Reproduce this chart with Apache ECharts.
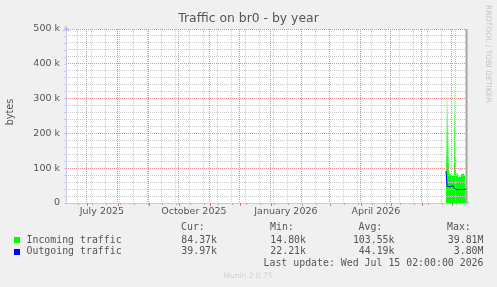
<!DOCTYPE html>
<html><head><meta charset="utf-8">
<script src="https://cdn.jsdelivr.net/npm/echarts@6/dist/echarts.min.js"></script>
<style>html,body{margin:0;padding:0;background:#f0f0f0}#c{width:497px;height:287px}</style>
</head><body><div id="c"></div>
<script>
const chartTitle = 'Traffic on br0 - by year';
const yLabel = 'bytes';
const rangeStart = '2025-06-10T02:00:00Z';
const rangeEnd = '2026-07-15T02:00:00Z';
const dates = ['2026-06-25','2026-06-26','2026-06-27','2026-06-28','2026-06-29','2026-06-30','2026-07-01',
  '2026-07-02','2026-07-03','2026-07-04','2026-07-05','2026-07-06','2026-07-07','2026-07-08','2026-07-09',
  '2026-07-10','2026-07-11','2026-07-12','2026-07-13','2026-07-14','2026-07-15'];
const incoming = [70000, 74000, 392000, 388000, 78000, 88000, 77000, 76000, 79000, 405000,
  400000, 76000, 90000, 75000, 80000, 76000, 82000, 77000, 85000, 78000, 84370];
const outgoing = [92000, 48000, 47000, 47000, 47000, 46000, 47000, 50000, 44000, 41000,
  38000, 37000, 38000, 39000, 39000, 38000, 39000, 39500, 39000, 39000, 39970];
const monthStarts = ['2025-07-01','2025-08-01','2025-09-01','2025-10-01','2025-11-01','2025-12-01',
  '2026-01-01','2026-02-01','2026-03-01','2026-04-01','2026-05-01','2026-06-01','2026-07-01'];
const monthLabelDates = ['2025-07-16','2025-10-16','2026-01-16','2026-04-16'];
const monthLabels = ['July 2025','October 2025','January 2026','April 2026'];
const firstMinorDate = '2025-06-22';
const yMax = 500000, yMajor = 100000, yMinor = 20000;
const legendNames = ['Incoming traffic','Outgoing traffic'];
const legendColors = ['#00ff00','#0000ff'];
const curVals = ['84.37k','39.97k'];
const minVals = ['14.80k','22.21k'];
const avgVals = ['103.55k','44.19k'];
const maxVals = ['39.81M','3.80M'];
const lastUpdate = 'Last update: Wed Jul 15 02:00:00 2026';
const footer = 'Munin 2.0.75';
const watermark = 'RRDTOOL / TOBI OETIKER';

const DAY = 86400000;
const t0 = Date.parse(rangeStart), t1 = Date.parse(rangeEnd);
const ts = d => Date.parse(d + 'T02:00:00Z');
const tm = d => Date.parse(d + 'T00:00:00Z');
const inData = dates.map((d, i) => [ts(d), incoming[i]]);
const outData = dates.map((d, i) => [ts(d), outgoing[i]]);
const minorX = [];
for (let t = tm(firstMinorDate); t < t1; t += 14 * DAY) minorX.push(t);
const majorX = monthStarts.map(tm);
const labelX = monthLabelDates.map(tm);
const minorY = [], majorY = [];
for (let v = yMinor; v <= yMax; v += yMinor) (v % yMajor === 0 ? majorY : minorY).push(v);

const RED = '#e88c8c', GRAY = '#cbcbcb';
const AX = '#c4c8f4', TXT = '#555';
const F = 'DejaVu Sans', M = 'DejaVu Sans Mono';
const mono = (text, x, y, align) => ({ type: 'text', x, y, style: { text, font: '9.9px "' + M + '"', fill: TXT, align: align || 'left', verticalAlign: 'middle' } });

const graphic = [
  { type: 'text', x: 248.5, y: 19, style: { text: chartTitle, font: '12.4px "' + F + '"', fill: TXT, align: 'center', verticalAlign: 'middle' } },
  { type: 'text', x: 10, y: 112, rotation: Math.PI / 2, style: { text: yLabel, font: '9.6px "' + F + '"', fill: TXT, align: 'center', verticalAlign: 'middle' } },
  { type: 'text', x: 488, y: 54, rotation: -Math.PI / 2, style: { text: watermark, font: '7.6px "' + F + '"', fill: '#c4c4c4', align: 'center', verticalAlign: 'middle' } },
  { type: 'text', x: 248, y: 276, style: { text: footer, font: '7.5px "' + F + '"', fill: '#cfcfcf', align: 'center', verticalAlign: 'middle' } },
  mono('Cur:', 181, 227.5), mono('Min:', 270, 227.5), mono('Avg:', 358.5, 227.5), mono('Max:', 447, 227.5),
  mono(lastUpdate, 483.5, 263.5, 'right')
];
legendNames.forEach((n, i) => {
  const y = 240 + i * 11.7;
  graphic.push({ type: 'rect', shape: { x: 14, y: Math.round(y - 3), width: 6, height: 6 }, style: { fill: legendColors[i] } });
  graphic.push(mono(n, 26.5, y));
  graphic.push(mono(curVals[i], 217, y, 'right'));
  graphic.push(mono(minVals[i], 306, y, 'right'));
  graphic.push(mono(avgVals[i], 394.5, y, 'right'));
  graphic.push(mono(maxVals[i], 483.5, y, 'right'));
});

const vRender = (stroke, width, dash) => (params, api) => {
  const cs = params.coordSys;
  let x = api.coord([api.value(0), 0])[0];
  x = Math.round(x - 0.5) + 0.5;
  return { type: 'line', shape: { x1: x, y1: cs.y, x2: x, y2: cs.y + cs.height }, style: { stroke, lineWidth: width, lineDash: dash } };
};
const hRender = (stroke) => (params, api) => {
  const cs = params.coordSys;
  let y = api.coord([t0, api.value(1)])[1];
  y = Math.round(y - 0.5) + 0.5;
  return { type: 'line', shape: { x1: cs.x, y1: y, x2: cs.x + cs.width, y2: y }, style: { stroke, lineWidth: 1, lineDash: [1, 1] } };
};
const gridSeries = (data, render, z) => ({ type: 'custom', data, renderItem: render, silent: true, z, clip: false, animation: false });

const chart = echarts.init(document.getElementById('c'), null, { renderer: 'canvas' });
chart.setOption({
  animation: false,
  backgroundColor: '#f0f0f0',
  graphic: graphic,
  grid: { left: 66, top: 29, right: 31, bottom: 84, show: true, backgroundColor: '#ffffff', borderWidth: 0 },
  xAxis: [{
    type: 'value', min: t0, max: t1,
    axisLine: { show: true, onZero: false, lineStyle: { color: AX, width: 1 }, symbol: ['none', 'arrow'], symbolSize: [6, 7], symbolOffset: [0, 4] },
    axisTick: { show: true, customValues: majorX, length: 3, lineStyle: { color: '#e07070' } },
    axisLabel: { show: true, customValues: labelX, margin: 4, color: TXT, fontFamily: F, fontSize: 9.5,
      formatter: v => { const i = labelX.indexOf(v); return i >= 0 ? monthLabels[i] : ''; } },
    splitLine: { show: false }
  }, {
    type: 'value', min: t0, max: t1, position: 'bottom',
    axisLine: { show: false },
    axisTick: { show: true, customValues: minorX, length: 2, lineStyle: { color: '#b0b0b0' } },
    axisLabel: { show: false }, splitLine: { show: false }
  }],
  yAxis: {
    type: 'value', min: 0, max: yMax, interval: yMajor,
    axisLine: { show: true, lineStyle: { color: AX, width: 1 }, symbol: ['none', 'arrow'], symbolSize: [6, 7], symbolOffset: [0, 4] },
    axisTick: { show: true, length: 2, lineStyle: { color: AX } },
    minorTick: { show: true, splitNumber: 5, length: 2, lineStyle: { color: '#c8c8c8' } },
    axisLabel: { color: TXT, fontFamily: F, fontSize: 9.5, margin: 6, formatter: v => v === 0 ? '0' : (v / 1000) + ' k' },
    splitLine: { show: false }
  },
  series: [{
    name: legendNames[0], type: 'line', data: inData, step: 'start', symbol: 'none', z: 2,
    lineStyle: { width: 0, opacity: 0 },
    areaStyle: { opacity: 1, color: new echarts.graphic.LinearGradient(0, 62, 0, 203, [
      { offset: 0, color: '#eeffee' }, { offset: 0.27, color: '#a6ffa6' }, { offset: 0.62, color: '#30ff30' },
      { offset: 0.8, color: '#00ff00' }, { offset: 1, color: '#00ff00' }], true) }
  },
  gridSeries(minorY.map(v => [t0, v]), hRender(GRAY), 3),
  gridSeries(minorX.map(t => [t, 0]), vRender(GRAY, 1, [1, 1]), 3),
  gridSeries(majorY.map(v => [t0, v]), hRender(RED), 4),
  gridSeries(majorX.map(t => [t, 0]), vRender(RED, 1, [1, 1]), 4),
  gridSeries([[t1, 0]], vRender('#a4a4a4', 2, null), 4),
  {
    name: legendNames[1], type: 'line', data: outData, symbol: 'none', z: 6,
    lineStyle: { width: 1, color: legendColors[1] }
  }]
});
</script></body></html>
